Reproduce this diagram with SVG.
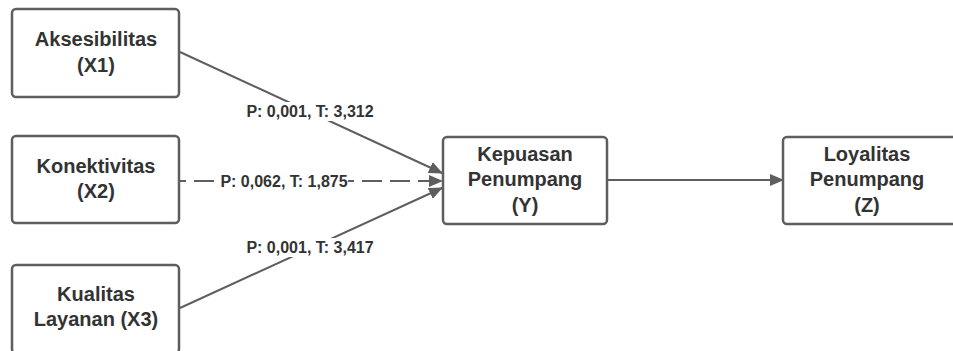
<svg xmlns="http://www.w3.org/2000/svg" width="953" height="351" viewBox="0 0 953 351">
<style>
.box{fill:#fff;stroke:#5e5e5e;stroke-width:2.5}
.t{font-family:"Liberation Sans",Arial,sans-serif;font-weight:bold;font-size:20px;fill:#333;text-anchor:middle}
.lb{font-family:"Liberation Sans",Arial,sans-serif;font-weight:bold;font-size:16px;fill:#333;text-anchor:middle}
.c{fill:none;stroke:#5e5e5e;stroke-width:2}
</style>
<defs>
<marker id="ah" markerWidth="14" markerHeight="12" refX="13" refY="6" orient="auto" markerUnits="userSpaceOnUse">
<path d="M0,0 L14,6 L0,12 Z" fill="#5e5e5e"/>
</marker>
</defs>
<rect width="953" height="351" fill="#fff"/>
<g id="connectors">
<line class="c" x1="180" y1="52" x2="442" y2="173" marker-end="url(#ah)"/>
<line class="c" x1="180" y1="181" x2="442" y2="181" stroke-dasharray="20,8" stroke-dashoffset="14" marker-end="url(#ah)"/>
<line class="c" x1="180" y1="308" x2="442" y2="188" marker-end="url(#ah)"/>
<line class="c" x1="607" y1="180" x2="783" y2="180" marker-end="url(#ah)"/>
<rect x="243" y="102" width="134" height="19" fill="#fff"/>
<text class="lb" x="310" y="116.5">P: 0,001, T: 3,312</text>
<rect x="220" y="174" width="128" height="15" fill="#fff"/>
<text class="lb" x="284" y="186.5">P: 0,062, T: 1,875</text>
<rect x="243" y="238" width="134" height="19" fill="#fff"/>
<text class="lb" x="310" y="252.5">P: 0,001, T: 3,417</text>
</g>
<g id="x1">
<rect class="box" x="12" y="9" width="167" height="88" rx="4"/>
<text class="t" x="96" y="46">Aksesibilitas</text>
<text class="t" x="96" y="72">(X1)</text>
</g>
<g id="x2">
<rect class="box" x="12" y="136" width="167" height="87" rx="4"/>
<text class="t" x="96" y="173">Konektivitas</text>
<text class="t" x="96" y="198">(X2)</text>
</g>
<g id="x3">
<rect class="box" x="12" y="265" width="167" height="88" rx="4"/>
<text class="t" x="96" y="301">Kualitas</text>
<text class="t" x="96" y="326">Layanan (X3)</text>
</g>
<g id="y">
<rect class="box" x="443" y="137" width="164" height="87" rx="4"/>
<text class="t" x="525" y="161">Kepuasan</text>
<text class="t" x="525" y="186">Penumpang</text>
<text class="t" x="525" y="212">(Y)</text>
</g>
<g id="z">
<rect class="box" x="783" y="137" width="180" height="87" rx="4"/>
<text class="t" x="867" y="161">Loyalitas</text>
<text class="t" x="867" y="186">Penumpang</text>
<text class="t" x="867" y="212">(Z)</text>
</g>
</svg>
